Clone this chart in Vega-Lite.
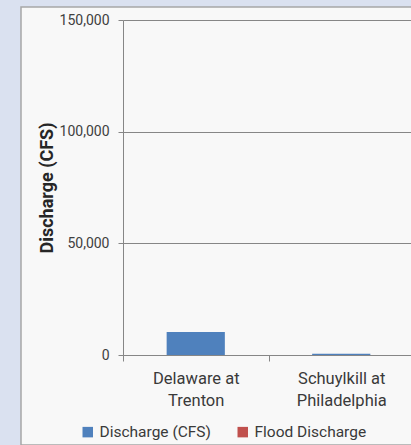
{
  "$schema": "https://vega.github.io/schema/vega-lite/v6.json",
  "width": 393,
  "height": 438,
  "autosize": {"type": "none"},
  "padding": {"left": 21, "top": 7, "right": 0, "bottom": 0},
  "background": "#dae1f0",
  "config": {
    "font": "Roboto",
    "view": {"fill": "#f8f8f8", "stroke": "#a6a6a6", "strokeWidth": 1.5}
  },
  "data": {
    "values": [
      {"site": "Delaware at Trenton", "series": "Discharge (CFS)", "discharge": 10300},
      {"site": "Schuylkill at Philadelphia", "series": "Discharge (CFS)", "discharge": 600}
    ]
  },
  "mark": {"type": "bar", "width": {"band": 0.4}},
  "encoding": {
    "x": {
      "field": "site",
      "type": "nominal",
      "sort": null,
      "scale": {"range": [102, 393], "paddingInner": 0, "paddingOuter": 0},
      "axis": {
        "title": null,
        "offset": -90,
        "tickBand": "extent",
        "tickSize": 6,
        "tickColor": "#868686",
        "domainColor": "#868686",
        "labelAngle": 0,
        "labelFont": "Roboto",
        "labelFontSize": 16.5,
        "labelColor": "#3a3a3a",
        "labelLineHeight": 22,
        "labelPadding": 9,
        "labelExpr": "[slice(datum.label, 0, indexof(datum.label, ' at ') + 3), slice(datum.label, indexof(datum.label, ' at ') + 4)]",
        "grid": false
      }
    },
    "y": {
      "field": "discharge",
      "type": "quantitative",
      "scale": {"domain": [0, 150000], "range": [348, 13], "nice": false},
      "axis": {
        "title": "Discharge (CFS)",
        "titleFont": "Roboto",
        "titleFontSize": 18,
        "titleFontWeight": "bold",
        "titleColor": "#262626",
        "titlePadding": 3,
        "values": [0, 50000, 100000, 150000],
        "format": ",.0f",
        "labelFont": "Roboto",
        "labelFontSize": 14,
        "labelColor": "#404040",
        "labelPadding": 9,
        "tickSize": 5,
        "tickColor": "#868686",
        "domainColor": "#868686",
        "grid": true,
        "gridColor": "#868686",
        "offset": -102
      }
    },
    "color": {
      "field": "series",
      "type": "nominal",
      "scale": {"domain": ["Discharge (CFS)", "Flood Discharge"], "range": ["#4f81bd", "#c0504d"]},
      "legend": {
        "orient": "none",
        "legendX": 59,
        "legendY": 417,
        "direction": "horizontal",
        "columns": 2,
        "columnPadding": 24,
        "title": null,
        "symbolType": "square",
        "symbolSize": 110,
        "symbolStrokeWidth": 0,
        "labelFont": "Roboto",
        "labelFontSize": 15.5,
        "labelColor": "#3a3a3a",
        "labelOffset": 4,
        "padding": 0
      }
    }
  }
}
